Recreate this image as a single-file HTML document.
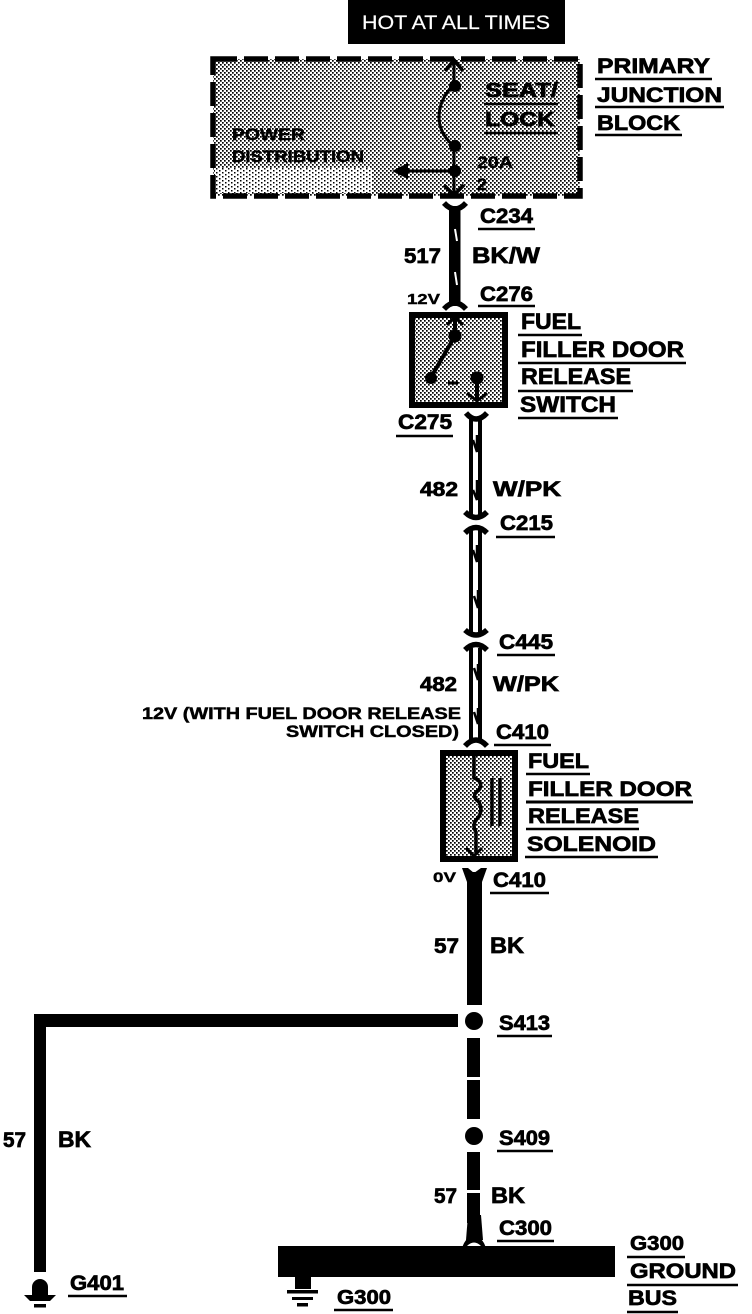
<!DOCTYPE html>
<html><head><meta charset="utf-8"><style>
html,body{margin:0;padding:0;background:#fff}
svg{display:block}
text{font-family:"Liberation Sans",sans-serif;font-weight:bold;fill:#000;stroke:#000;stroke-width:.7}
.w{fill:#fff;stroke:#fff;stroke-width:.2;font-weight:normal}
.u{stroke:#000;stroke-width:2.5;fill:none}
.cap{fill:none;stroke:#000;stroke-width:5.5}
.sl{fill:none;stroke:#fff;stroke-width:2}
.bl{fill:none;stroke:#000;stroke-width:2.5}
</style></head><body>
<svg width="752" height="1314" viewBox="0 0 752 1314" xmlns="http://www.w3.org/2000/svg">
<defs>
<pattern id="d" width="4" height="4" patternUnits="userSpaceOnUse">
<rect width="4" height="4" fill="#fff"/>
<rect x="0" y="0" width="1.7" height="1.7" fill="#000"/><rect x="2" y="2" width="1.7" height="1.7" fill="#000"/>
</pattern>
<pattern id="l" width="6" height="4" patternUnits="userSpaceOnUse">
<rect width="6" height="4" fill="#fff"/>
<rect x="0" y="0" width="1.5" height="1.5" fill="#000"/><rect x="3" y="2" width="1.5" height="1.5" fill="#000"/>
</pattern>
</defs>
<rect width="752" height="1314" fill="#fff"/>

<!-- header -->
<rect x="348" y="0" width="217" height="44" fill="#000"/>
<text class="w" x="362" y="29" font-size="19" textLength="188" lengthAdjust="spacingAndGlyphs">HOT AT ALL TIMES</text>

<!-- primary junction block -->
<rect x="213" y="59" width="367" height="137" fill="url(#d)"/>
<rect x="215" y="168" width="157" height="25" fill="url(#l)"/>
<rect x="213" y="59" width="367" height="137" fill="none" stroke="#000" stroke-width="5.5" stroke-dasharray="24 7"/>
<path d="M454 60V84M454 84C434 105 434 130 454 146V196M454 171H398" fill="none" stroke="#000" stroke-width="3"/>
<path d="M445 71L454 60L463 71M444 185L454 195L464 185" fill="none" stroke="#000" stroke-width="3.5"/>
<circle cx="455" cy="86" r="6"/><circle cx="455" cy="146" r="6"/><circle cx="455" cy="171" r="6"/>
<path d="M392 171L408 163V179Z"/>
<text x="485" y="97" font-size="20" textLength="73" lengthAdjust="spacingAndGlyphs">SEAT/</text><path class="u" d="M484 104H558"/>
<text x="485" y="126" font-size="20" textLength="70" lengthAdjust="spacingAndGlyphs">LOCK</text><path class="u" d="M484 133H558"/>
<text x="232" y="140" font-size="17" textLength="73" lengthAdjust="spacingAndGlyphs" style="stroke-width:.4">POWER</text>
<text x="232" y="162" font-size="17" textLength="132" lengthAdjust="spacingAndGlyphs" style="stroke-width:.4">DISTRIBUTION</text>
<text x="477" y="168" font-size="17" textLength="36" lengthAdjust="spacingAndGlyphs" style="stroke-width:.4">20A</text>
<text x="477" y="190" font-size="17" textLength="10" lengthAdjust="spacingAndGlyphs" style="stroke-width:.4">2</text>
<text x="597" y="73" font-size="21" textLength="113" lengthAdjust="spacingAndGlyphs">PRIMARY</text><path class="u" d="M595 79H712"/>
<text x="597" y="102" font-size="21" textLength="125" lengthAdjust="spacingAndGlyphs">JUNCTION</text><path class="u" d="M595 107H724"/>
<text x="597" y="130" font-size="21" textLength="83" lengthAdjust="spacingAndGlyphs">BLOCK</text><path class="u" d="M595 135H682"/>

<!-- wire 517 -->
<rect x="449" y="206" width="11.500" height="100"/>
<path class="cap" d="M444 203Q455 215 466 203M444 309Q455 297 466 309"/>
<path class="sl" d="M455 229L457 241M455 272L457 285"/>
<text x="480" y="223" font-size="21" textLength="53" lengthAdjust="spacingAndGlyphs">C234</text><path class="u" d="M478 229H535"/>
<text x="404" y="263" font-size="21" textLength="37" lengthAdjust="spacingAndGlyphs">517</text>
<text x="472" y="263" font-size="22" textLength="68" lengthAdjust="spacingAndGlyphs">BK/W</text>
<text x="407" y="304" font-size="15" textLength="33" lengthAdjust="spacingAndGlyphs" style="stroke-width:.4">12V</text>
<text x="480" y="301" font-size="21" textLength="53" lengthAdjust="spacingAndGlyphs">C276</text><path class="u" d="M478 306H535"/>

<!-- switch -->
<rect x="412" y="315" width="93" height="90" fill="url(#d)" stroke="#000" stroke-width="6"/>
<path d="M455 336L430 379M477 378V401M455 317V336" fill="none" stroke="#000" stroke-width="4"/>
<path d="M447 325L455 317L463 325M467 393L477 401L487 393" fill="none" stroke="#000" stroke-width="3"/>
<path d="M448 383H458" stroke="#000" stroke-width="3"/>
<circle cx="455" cy="336" r="6.500"/><circle cx="431" cy="378" r="6"/><circle cx="477" cy="378" r="6.500"/>
<text x="521" y="329" font-size="22" textLength="60" lengthAdjust="spacingAndGlyphs">FUEL</text><path class="u" d="M518 335H582"/>
<text x="521" y="357" font-size="22" textLength="163" lengthAdjust="spacingAndGlyphs">FILLER DOOR</text><path class="u" d="M518 363H686"/>
<text x="521" y="384" font-size="22" textLength="110" lengthAdjust="spacingAndGlyphs">RELEASE</text><path class="u" d="M518 391H633"/>
<text x="520" y="412" font-size="22" textLength="96" lengthAdjust="spacingAndGlyphs">SWITCH</text><path class="u" d="M518 418H618"/>

<!-- wire 482 -->
<text x="398" y="429" font-size="21" textLength="54" lengthAdjust="spacingAndGlyphs">C275</text><path class="u" d="M396 436H453"/>
<path d="M471 418V516M480 418V516M471 530V633M480 530V633M471 648V742M480 648V742" fill="none" stroke="#000" stroke-width="4"/>
<path class="cap" d="M466 413Q476 425 487 413M465 512Q476 523 487 512M465 533Q476 522 487 533M465 630Q476 640 487 630M465 650Q476 639 487 650M465 746Q476 734 487 746"/>
<path class="bl" d="M473 440L477 452V435M473 490L477 500V480M473 550L477 562V545M474 596L478 608V590M474 668L478 680V664M474 712L478 724V708"/>
<text x="420" y="496" font-size="20" textLength="38" lengthAdjust="spacingAndGlyphs">482</text>
<text x="493" y="496" font-size="21" textLength="68" lengthAdjust="spacingAndGlyphs">W/PK</text>
<text x="500" y="530" font-size="21" textLength="53" lengthAdjust="spacingAndGlyphs">C215</text><path class="u" d="M496 537H555"/>
<text x="499" y="649" font-size="21" textLength="54" lengthAdjust="spacingAndGlyphs">C445</text><path class="u" d="M497 655H555"/>
<text x="420" y="691" font-size="20" textLength="37" lengthAdjust="spacingAndGlyphs">482</text>
<text x="493" y="691" font-size="21" textLength="66" lengthAdjust="spacingAndGlyphs">W/PK</text>
<text x="142" y="719" font-size="17" textLength="319" lengthAdjust="spacingAndGlyphs" style="stroke-width:.5">12V (WITH FUEL DOOR RELEASE</text>
<text x="286" y="737" font-size="17" textLength="173" lengthAdjust="spacingAndGlyphs" style="stroke-width:.5">SWITCH CLOSED)</text>
<text x="496" y="739" font-size="21" textLength="53" lengthAdjust="spacingAndGlyphs">C410</text><path class="u" d="M494 745H551"/>

<!-- solenoid -->
<rect x="443" y="753" width="72" height="106" fill="url(#d)" stroke="#000" stroke-width="6"/>
<path d="M474 755V778Q484 782 479 790Q470 796 479 802Q484 812 476 820Q472 826 476 832V855" fill="none" stroke="#000" stroke-width="3.500"/>
<path d="M492 778V826M500 778V826" stroke="#000" stroke-width="3.500" fill="none"/>
<path d="M466 848L474 856L482 848" fill="none" stroke="#000" stroke-width="3"/>
<text x="528" y="768" font-size="21" textLength="61" lengthAdjust="spacingAndGlyphs">FUEL</text><path class="u" d="M526 774H590"/>
<text x="528" y="796" font-size="21" textLength="164" lengthAdjust="spacingAndGlyphs">FILLER DOOR</text><path class="u" d="M526 802H693" style="stroke-width:3"/>
<text x="528" y="823" font-size="21" textLength="111" lengthAdjust="spacingAndGlyphs">RELEASE</text><path class="u" d="M526 829H639"/>
<text x="527" y="851" font-size="21" textLength="129" lengthAdjust="spacingAndGlyphs">SOLENOID</text><path class="u" d="M525 857H658"/>

<!-- wire 57 -->
<rect x="467" y="872" width="15" height="133"/>
<path d="M462 868H468L474 873L481 868H487L482 882H467Z"/>
<text x="433" y="882" font-size="14" textLength="23" lengthAdjust="spacingAndGlyphs" style="stroke-width:.4">0V</text>
<text x="493" y="887" font-size="21" textLength="53" lengthAdjust="spacingAndGlyphs">C410</text><path class="u" d="M490 893H549"/>
<text x="434" y="953" font-size="21" textLength="25" lengthAdjust="spacingAndGlyphs">57</text>
<text x="490" y="953" font-size="22" textLength="34" lengthAdjust="spacingAndGlyphs">BK</text>

<rect x="34" y="1014" width="424" height="13"/>
<rect x="34" y="1014" width="12" height="258"/>
<circle cx="474" cy="1021" r="9"/>
<text x="499" y="1030" font-size="21" textLength="51" lengthAdjust="spacingAndGlyphs">S413</text><path class="u" d="M497 1036H552"/>
<rect x="467" y="1038" width="13" height="39"/>
<rect x="467" y="1080" width="13" height="39"/>
<circle cx="474" cy="1136" r="9"/>
<text x="499" y="1145" font-size="21" textLength="51" lengthAdjust="spacingAndGlyphs">S409</text><path class="u" d="M497 1151H553"/>
<rect x="467" y="1152" width="13" height="38"/>
<rect x="467" y="1193" width="13" height="30"/>
<path d="M468 1215H481L483 1240H466Z"/>
<path d="M462 1248Q466 1236 474 1236Q482 1236 486 1248Z"/>
<path d="M467 1246Q474 1239 481 1246Z" fill="#fff"/>
<text x="434" y="1203" font-size="21" textLength="23" lengthAdjust="spacingAndGlyphs">57</text>
<text x="491" y="1203" font-size="22" textLength="34" lengthAdjust="spacingAndGlyphs">BK</text>
<text x="499" y="1235" font-size="21" textLength="53" lengthAdjust="spacingAndGlyphs">C300</text><path class="u" d="M497 1241H554"/>

<rect x="278" y="1246" width="337" height="31"/>
<text x="630" y="1250" font-size="20" textLength="54" lengthAdjust="spacingAndGlyphs">G300</text><path class="u" d="M627 1257H685"/>
<text x="630" y="1278" font-size="21" textLength="106" lengthAdjust="spacingAndGlyphs">GROUND</text><path class="u" d="M627 1285H738"/>
<text x="628" y="1305" font-size="21" textLength="49" lengthAdjust="spacingAndGlyphs">BUS</text><path class="u" d="M627 1312H678"/>

<!-- ground G300 -->
<rect x="295" y="1277" width="16" height="12"/>
<rect x="287" y="1290" width="31" height="3.500"/>
<rect x="292" y="1297" width="21" height="3"/>
<rect x="297" y="1303" width="11" height="3.500"/>
<text x="337" y="1304" font-size="20" textLength="54" lengthAdjust="spacingAndGlyphs">G300</text><path class="u" d="M334 1310H393"/>

<!-- ground G401 -->
<circle cx="40" cy="1287" r="8"/>
<rect x="32" y="1287" width="16" height="10"/>
<path d="M24 1295H56L50 1301H30Z"/>
<rect x="34" y="1304" width="12" height="3.500"/>
<text x="70" y="1290" font-size="21" textLength="54" lengthAdjust="spacingAndGlyphs">G401</text><path class="u" d="M68 1296H127"/>
<text x="3" y="1147" font-size="21" textLength="23" lengthAdjust="spacingAndGlyphs">57</text>
<text x="58" y="1147" font-size="22" textLength="33" lengthAdjust="spacingAndGlyphs">BK</text>
</svg>
</body></html>
